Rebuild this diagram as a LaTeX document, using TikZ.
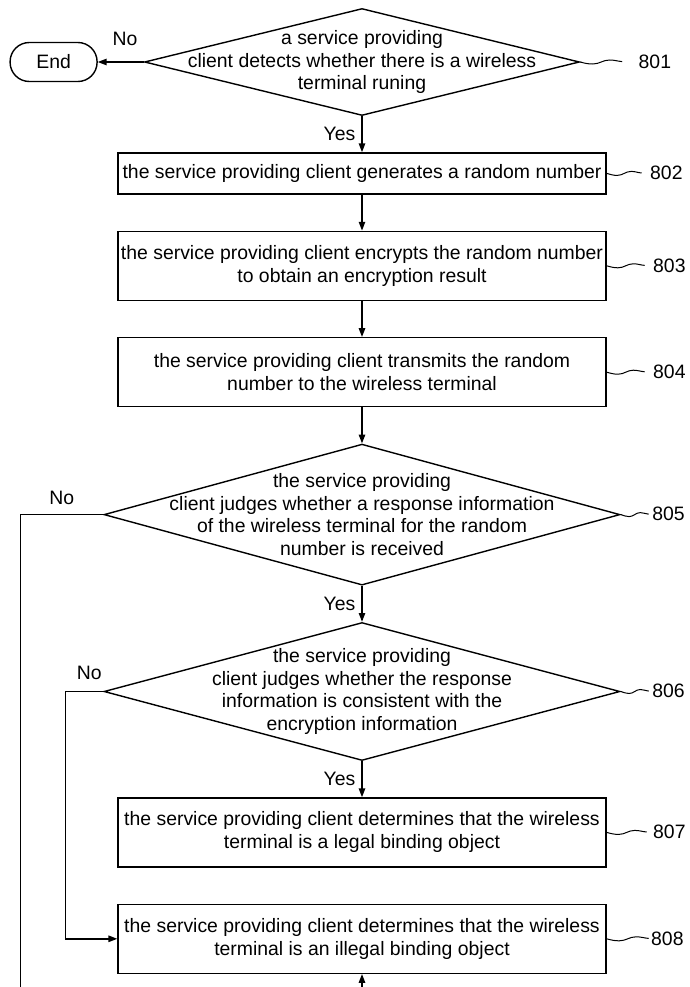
\documentclass[tikz,border=0pt]{standalone}
\usepackage{fontspec}
\setmainfont{Liberation Sans}
\usepackage{tikz}
\usetikzlibrary{positioning,arrows.meta,shapes.geometric}

\newcommand{\steptag}[4]{%
  \draw[lead] (#1.east) to[out=-15,in=180] ++({0.3*#3},-0.5mm) to[out=0,in=180] ++({0.4*#3},1mm)
    to[out=0,in=175] ++({0.3*#3},-0.4mm) node[right=#4,inner sep=0pt] (t#2) {#2};}

\begin{document}
\begin{tikzpicture}[
  font=\fontsize{13.8}{16.3}\selectfont,
  line width=0.35mm,
  node distance=9mm,
  process/.style={draw,minimum width=122mm,minimum height=17.25mm,inner xsep=0pt,align=center},
  decision/.style={draw,diamond,shape aspect=3.66,minimum width=129mm,minimum height=35.25mm,inner sep=-10mm,align=center},
  term/.style={draw,rounded corners=4.8mm,minimum width=21.75mm,minimum height=9.75mm},
  lbl/.style={inner sep=0pt},
  arr/.style={-{Triangle[length=2.2mm,width=1.6mm]}},
  lead/.style={line width=0.25mm}
]
\useasboundingbox (-90.5mm,15.5mm) rectangle (81.75mm,-231.25mm);

\node[decision,minimum width=108.75mm,minimum height=26.75mm] (d801) at (0,0) {a service providing\\client detects whether there is a wireless\\terminal runing};
\node[term,left=11.5mm of d801] (end) {End};
\node[process,minimum height=10.25mm,below=of d801] (b802) {the service providing client generates a random number};
\node[process,below=of b802] (b803) {the service providing client encrypts the random number\\to obtain an encryption result};
\node[process,below=of b803] (b804) {the service providing client transmits the random\\number to the wireless terminal};
\node[decision,below=of b804] (d805) {the service providing\\client judges whether a response information\\of the wireless terminal for the random\\number is received};
\node[decision,minimum height=34.5mm,below=of d805] (d806) {the service providing\\client judges whether the response\\information is consistent with the\\encryption information};
\node[process,below=of d806] (b807) {the service providing client determines that the wireless\\terminal is a legal binding object};
\node[process,below=of b807] (b808) {the service providing client determines that the wireless\\terminal is an illegal binding object};

\coordinate[below=6mm of b808.south] (inb);
\coordinate[left=20.75mm of d805.west] (turn805);
\coordinate[left=9.5mm of d806.west] (turn806);

\draw[arr] (d801.west) -- node[lbl,pos=0.41,above=4mm] (no801) {No} (end.east);
\draw[arr] (d801.south) -- node[lbl,left=1.5mm] (yes801) {Yes} (b802.north);
\draw[arr] (b802.south) -- (b803.north);
\draw[arr] (b803.south) -- (b804.north);
\draw[arr] (b804.south) -- (d805.north);
\draw[arr] (d805.south) -- node[lbl,left=1.5mm] (yes805) {Yes} (d806.north);
\draw[arr] (d806.south) -- node[lbl,left=1.5mm] (yes806) {Yes} (b807.north);
\draw (d805.west) -- node[lbl,above=2.2mm] (no805) {No} (turn805) -- (turn805 |- inb);
\draw[arr] (d806.west) -- node[lbl,pos=0.37,above=2.7mm] (no806) {No} (turn806) |- (b808.west);
\draw[arr] (inb) -- (b808.south);

\steptag{d801}{801}{10.5mm}{4mm}
\steptag{b802}{802}{8.75mm}{2mm}
\steptag{b803}{803}{9.5mm}{2mm}
\steptag{b804}{804}{9.5mm}{2mm}
\steptag{d805}{805}{7mm}{0.8mm}
\steptag{d806}{806}{7mm}{0.8mm}
\steptag{b807}{807}{10mm}{1.5mm}
\steptag{b808}{808}{10.5mm}{0.5mm}
\end{tikzpicture}
\end{document}
